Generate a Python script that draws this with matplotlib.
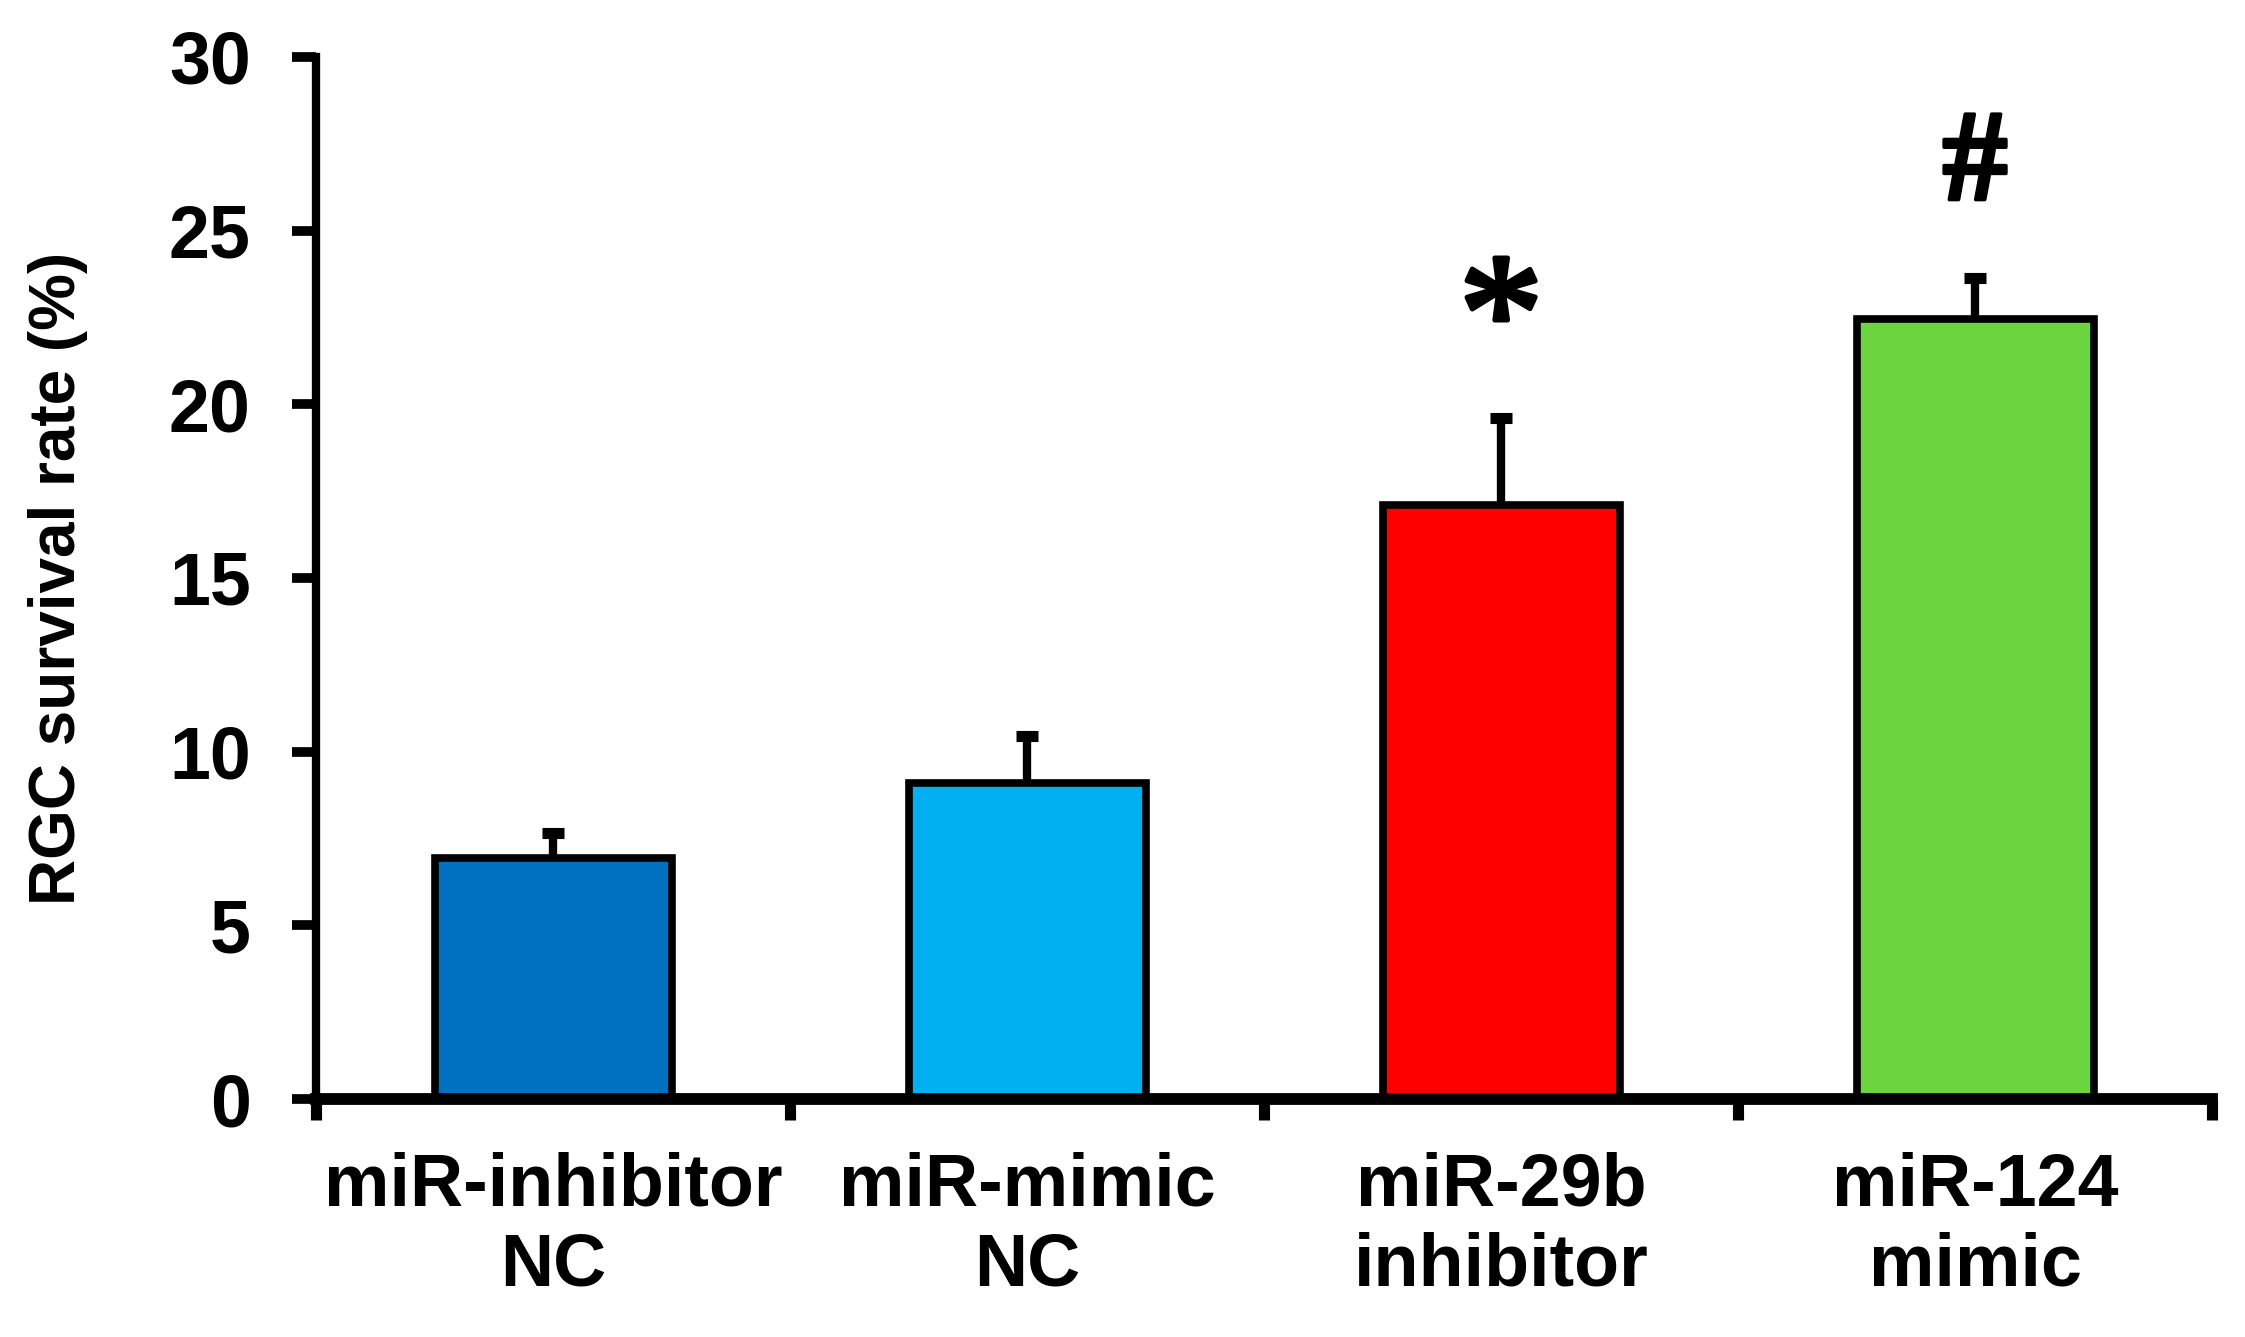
import numpy as np
import matplotlib
matplotlib.use("Agg")
from matplotlib import pyplot as plt
from matplotlib import patheffects

# Datos del grafico
grupos = ["miR-inhibitor\nNC", "miR-mimic\nNC", "miR-29b\ninhibitor", "miR-124\nmimic"]
medias = [6.95, 9.1, 17.1, 22.45]
errores = [0.7, 1.35, 2.5, 1.2]
colores = ["#0070C0", "#00B0F0", "#FF0000", "#6CD43F"]
marcas = ["", "", "*", "#"]
marcas_y = [0, 0, 22.2, 26.8]

plt.rcParams["font.family"] = ["Liberation Sans", "DejaVu Sans"]
plt.rcParams["font.weight"] = "bold"

fig = plt.figure(figsize=(22.45, 13.37), dpi=100)
ax = fig.add_axes([0.1408, 0.178, 0.8445, 0.7794])

posiciones = np.arange(len(grupos))

# Barras de error detras de las barras, asi solo se ve la parte superior
ax.errorbar(posiciones, medias, yerr=errores, fmt="none", ecolor="black",
            elinewidth=6, capsize=8, capthick=8, zorder=1)
ax.bar(posiciones, medias, 0.5, color=colores, edgecolor="black",
       linewidth=5.5, zorder=2)

# Simbolos de significancia (con un trazo extra para que se vean gruesos)
fuentes = {"*": ("normal", 122, 3.5), "#": ("bold", 94, 2.5)}
for p, m, y in zip(posiciones, marcas, marcas_y):
    if m:
        peso, tam, trazo = fuentes[m]
        ax.text(p, y, m, ha="center", va="center", fontsize=tam,
                family="Liberation Serif", fontweight=peso,
                path_effects=[patheffects.withStroke(linewidth=trazo, foreground="black")])

ax.set_xlim(-0.5, len(grupos) - 0.5)
ax.set_ylim(0, 30)
ax.set_yticks(range(0, 31, 5))

# Ticks mayores en los limites de cada categoria, etiquetas en el centro
ax.set_xticks(np.arange(len(grupos) + 1) - 0.5)
ax.set_xticklabels([])
ax.set_xticks(posiciones, minor=True)
ax.set_xticklabels(grupos, minor=True, fontsize=53, fontweight="bold")
ax.tick_params(axis="x", which="major", direction="out", length=15, width=8)
ax.tick_params(axis="x", which="minor", length=0, pad=38)
ax.tick_params(axis="y", direction="out", length=17, width=7, pad=30,
               labelsize=53)

for s in ["top", "right"]:
    ax.spines[s].set_visible(False)
ax.spines["left"].set_linewidth(6)
ax.spines["bottom"].set_linewidth(8.5)
ax.spines["bottom"].set_zorder(3)

ax.set_ylabel("RGC survival rate (%)", fontsize=46, fontweight="bold", va="center")
ax.yaxis.set_label_coords(-0.136, 0.5)

fig.savefig("out.png", dpi=100)
